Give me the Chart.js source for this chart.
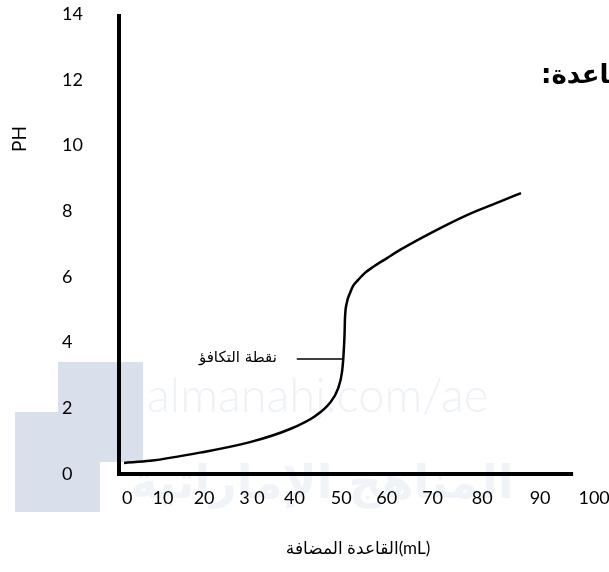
<!DOCTYPE html>
<html>
<head>
<meta charset="utf-8">
<script src="https://cdn.jsdelivr.net/npm/chart.js@4.4.1/dist/chart.umd.min.js"></script>
<style>
  html, body { margin: 0; padding: 0; background: #ffffff; }
  #wrap { width: 609px; height: 572px; }
</style>
</head>
<body>
<div id="wrap"><canvas id="c" width="609" height="572"></canvas></div>
<script>
// ---- data ----
const volumeAdded = [1.05, 6.5, 16.9, 27.4, 35.8, 41.0, 44.1, 45.8, 46.65, 46.97, 47.18, 47.28, 47.64, 48.33, 48.95, 50.0, 51.46, 53.14, 56.07, 58.8, 65.7, 72.8, 79.7, 84.1];
const phValues    = [0.335, 0.40, 0.65, 0.97, 1.37, 1.76, 2.16, 2.59, 3.10, 3.62, 4.23, 4.75, 5.20, 5.51, 5.72, 5.90, 6.12, 6.30, 6.57, 6.82, 7.37, 7.88, 8.29, 8.55];

// x tick labels as printed, and the axis value under each label
const xTickLabels = ['0', '10', '20', '3 0', '40', '50', '60', '70', '80', '90', '100'];
const xTickAt     = [1.7, 9.2, 17.8, 27.8, 36.7, 46.5, 56.0, 65.6, 76.0, 88.1, 99.4];

// equivalence-point pointer line
const markerX = [37.2, 46.9];
const markerY = [3.5, 3.5];

const yTitle = 'PH';
const xTitle = 'القاعدة المضافة(mL)';
const equivLabel = 'نقطة التكافؤ';
const headingText = 'القاعدة:';
const watermarkLatin = 'almanahj.com/ae';
const watermarkArabic = 'المناهج الإماراتية';

const X_AXIS_END = 95.0;  // x-axis line stops before the last label
const LATIN = 'Lato, "DejaVu Sans", sans-serif';
const ARABIC = '"DejaVu Sans", sans-serif';

const curve = volumeAdded.map((v, i) => ({ x: v, y: phValues[i] }));
const marker = markerX.map((v, i) => ({ x: v, y: markerY[i] }));

const decor = {
  id: 'decor',
  beforeDraw(chart) {
    const ctx = chart.ctx;
    ctx.save();
    ctx.fillStyle = '#ffffff';
    ctx.fillRect(0, 0, chart.width, chart.height);
    // watermark blocks
    ctx.fillStyle = '#d9e0ec';
    ctx.fillRect(58, 362, 85, 100);
    ctx.fillRect(15, 412, 85, 100);
    // watermark texts
    ctx.fillStyle = '#eef1f7';
    ctx.font = '300 47px ' + LATIN;
    ctx.textAlign = 'left';
    ctx.textBaseline = 'alphabetic';
    ctx.fillText(watermarkLatin, 147, 412);
    ctx.fillStyle = '#f0f3f8';
    ctx.font = 'bold 46px ' + ARABIC;
    ctx.textAlign = 'center';
    ctx.fillText(watermarkArabic, 322, 498);
    ctx.restore();
  },
  beforeDatasetsDraw(chart) {
    const ctx = chart.ctx;
    const xs = chart.scales.x, ys = chart.scales.y;
    const x0 = xs.left, yTop = ys.top, yBot = ys.bottom;
    const xEnd = xs.getPixelForValue(X_AXIS_END);
    ctx.save();
    ctx.strokeStyle = '#000000';
    ctx.lineWidth = 4;
    ctx.lineCap = 'butt';
    ctx.beginPath();
    ctx.moveTo(x0, yTop);
    ctx.lineTo(x0, yBot + 2);
    ctx.stroke();
    ctx.beginPath();
    ctx.moveTo(x0 - 2, yBot);
    ctx.lineTo(xEnd, yBot);
    ctx.stroke();
    ctx.restore();
  },
  afterDraw(chart) {
    const ctx = chart.ctx;
    const xs = chart.scales.x, ys = chart.scales.y;
    ctx.save();
    // y title
    ctx.fillStyle = '#000000';
    ctx.font = '19px ' + LATIN;
    ctx.textAlign = 'center';
    ctx.textBaseline = 'middle';
    ctx.translate(20, 139);
    ctx.rotate(-Math.PI / 2);
    ctx.fillText(yTitle, 0, 0);
    ctx.restore();

    ctx.save();
    // equivalence point label
    ctx.fillStyle = '#000000';
    ctx.font = '15px ' + ARABIC;
    ctx.textAlign = 'right';
    ctx.textBaseline = 'middle';
    ctx.fillText(equivLabel, xs.getPixelForValue(markerX[0]) - 20, ys.getPixelForValue(markerY[0]) - 1);
    // clipped heading at top right
    ctx.direction = 'rtl';
    ctx.font = 'bold 26px ' + ARABIC;
    ctx.textAlign = 'left';
    ctx.fillText(headingText, 541, 76);
    ctx.restore();
  }
};

new Chart(document.getElementById('c'), {
  type: 'line',
  data: {
    datasets: [
      {
        data: curve,
        borderColor: '#000000',
        borderWidth: 2.5,
        pointRadius: 0,
        fill: false,
        cubicInterpolationMode: 'monotone'
      },
      {
        data: marker,
        borderColor: '#000000',
        borderWidth: 1.5,
        pointRadius: 0,
        fill: false
      }
    ]
  },
  options: {
    responsive: false,
    animation: false,
    events: [],
    layout: { padding: { left: 62, top: 14, right: 12, bottom: 0 } },
    plugins: { legend: { display: false }, tooltip: { enabled: false } },
    scales: {
      x: {
        type: 'linear',
        min: 0,
        max: 100,
        grid: { display: false },
        border: { display: false },
        afterBuildTicks(scale) { scale.ticks = xTickAt.map(v => ({ value: v })); },
        afterFit(scale) { scale.height = 98; scale.paddingLeft = 0; scale.paddingRight = 0; },
        ticks: {
          autoSkip: false,
          maxRotation: 0,
          padding: 5,
          color: '#000000',
          font: { family: LATIN, size: 18 },
          callback: (value, index) => xTickLabels[index]
        },
        title: {
          display: true,
          text: xTitle,
          color: '#000000',
          font: { family: LATIN, size: 17 },
          padding: { top: 0, bottom: 13 }
        }
      },
      y: {
        type: 'linear',
        min: 0,
        max: 14,
        grid: { display: false },
        border: { display: false },
        afterFit(scale) { scale.width = 57; scale.paddingTop = 0; scale.paddingBottom = 0; },
        ticks: {
          stepSize: 2,
          padding: 0,
          crossAlign: 'far',
          color: '#000000',
          font: { family: LATIN, size: 18 }
        }
      }
    }
  },
  plugins: [decor]
});
</script>
</body>
</html>
